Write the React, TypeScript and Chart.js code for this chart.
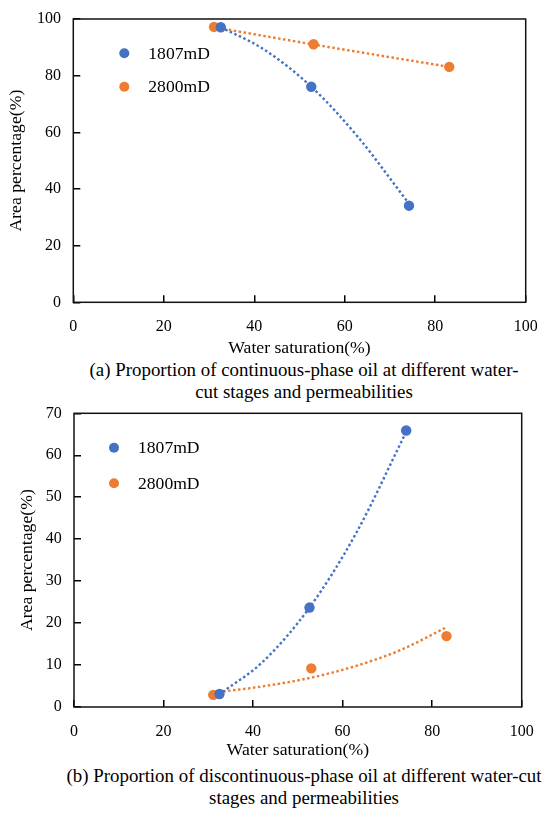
import { useEffect, useRef } from 'react';
import { Chart, registerables } from 'chart.js';

Chart.register(...registerables);

const BLUE = '#4472C4';
const ORANGE = '#ED7D31';
const SERIF = '"Liberation Serif", "Times New Roman", serif';

const seriesNames = ['1807mD', '2800mD'];
const xTitle = 'Water saturation(%)';
const yTitle = 'Area percentage(%)';

// (a) continuous-phase oil
const satA1807 = [32.6, 52.6, 74.2];
const areaA1807 = [97.1, 76.1, 34.1];
const satA2800 = [31.1, 53.1, 83.1];
const areaA2800 = [97.2, 91.1, 83.1];
// dotted trend lines
const trendSatA1807 = [32.6, 42, 52.6, 63, 74.2];
const trendAreaA1807 = [97.1, 89.4, 76.1, 58.2, 34.8];
const trendSatA2800 = [31.1, 53.1, 83.1];
const trendAreaA2800 = [97.1, 91.0, 83.1];

// (b) discontinuous-phase oil
const satB1807 = [32.5, 52.6, 74.2];
const areaB1807 = [3.1, 23.7, 65.9];
const satB2800 = [31.1, 53.0, 83.2];
const areaB2800 = [2.9, 9.2, 16.9];
const trendSatB1807 = [33.2, 42, 52.6, 63, 74.2];
const trendAreaB1807 = [3.6, 10.6, 23.7, 41.4, 65.6];
const trendSatB2800 = [31.1, 42, 53, 63, 73, 83.2];
const trendAreaB2800 = [3.4, 4.9, 7.0, 9.8, 13.6, 19.0];

const captionA = ['(a) Proportion of continuous-phase oil at different water-', 'cut stages and permeabilities'];
const captionB = ['(b) Proportion of discontinuous-phase oil at different water-cut', 'stages and permeabilities'];

const pts = (xs: number[], ys: number[]) => xs.map((x, i) => ({ x, y: ys[i] }));

const scatterSet = (label: string, color: string, xs: number[], ys: number[]) => ({
  label,
  data: pts(xs, ys),
  backgroundColor: color,
  borderColor: color,
  pointRadius: 5.2,
  pointBorderWidth: 0,
  order: 0,
});

const trendSet = (color: string, xs: number[], ys: number[]) => ({
  label: '',
  data: pts(xs, ys),
  showLine: true,
  borderColor: color,
  backgroundColor: color,
  borderWidth: 2.4,
  borderDash: [2.5, 2.5],
  pointRadius: 0,
  cubicInterpolationMode: 'monotone',
  fill: false,
  order: 1,
});

// box round the plot area
const frame = {
  id: 'frame',
  afterDatasetsDraw(chart: any) {
    const { ctx, chartArea: a } = chart;
    ctx.save();
    ctx.strokeStyle = '#111';
    ctx.lineWidth = 1.5;
    ctx.strokeRect(a.left, a.top, a.right - a.left, a.bottom - a.top);
    ctx.restore();
  },
};

// legend drawn inside the plot, top left
const insideLegend = {
  id: 'insideLegend',
  afterDatasetsDraw(chart: any, _args: any, opts: any) {
    const { ctx, chartArea } = chart;
    const items = chart.data.datasets.filter((d: any) => d.label);
    ctx.save();
    ctx.font = `17.6px ${SERIF}`;
    ctx.textBaseline = 'middle';
    items.forEach((d: any, i: number) => {
      const cx = chartArea.left + opts.dx;
      const cy = chartArea.top + opts.dy + i * opts.gap;
      ctx.beginPath();
      ctx.arc(cx, cy, 5, 0, Math.PI * 2);
      ctx.fillStyle = d.backgroundColor;
      ctx.fill();
      ctx.fillStyle = '#000';
      ctx.fillText(d.label, cx + 24, cy + 1);
    });
    ctx.restore();
  },
};

type PanelProps = {
  top: number;
  height: number;
  datasets: any[];
  yMax: number;
  yStep: number;
  padTop: number;
  padRight: number;
  yAxisW: number;
  xAxisH: number;
  yTitlePad: number;
  legend: { dx: number; dy: number; gap: number };
};

const Panel = (p: PanelProps) => {
  const ref = useRef<HTMLCanvasElement>(null);

  useEffect(() => {
    const ctx = ref.current!.getContext('2d')!;
    const chart = new Chart(ctx, {
      type: 'scatter',
      data: { datasets: p.datasets },
      plugins: [frame, insideLegend],
      options: {
        animation: false,
        responsive: true,
        maintainAspectRatio: false,
        layout: { padding: { left: 0, right: p.padRight, top: p.padTop, bottom: 0 } },
        plugins: {
          legend: { display: false },
          tooltip: { enabled: false },
          insideLegend: p.legend,
        } as any,
        scales: {
          x: {
            type: 'linear',
            min: 0,
            max: 100,
            ticks: { stepSize: 20, padding: 22, color: '#000', font: { size: 16, family: SERIF } },
            grid: { drawOnChartArea: false, tickLength: -7, color: '#000', lineWidth: 1.5 },
            border: { display: false },
            title: {
              display: true,
              text: xTitle,
              color: '#000',
              font: { size: 17.7, family: SERIF },
              padding: { top: 0, bottom: 0 },
            },
            afterFit: (s: any) => {
              s.height = p.xAxisH;
              s.paddingLeft = 0;
              s.paddingRight = 0;
            },
          },
          y: {
            type: 'linear',
            min: 0,
            max: p.yMax,
            ticks: { stepSize: p.yStep, padding: 19.3, color: '#000', font: { size: 16, family: SERIF } },
            grid: { drawOnChartArea: false, tickLength: -7, color: '#000', lineWidth: 1.5 },
            border: { display: false },
            title: {
              display: true,
              text: yTitle,
              color: '#000',
              font: { size: 17.7, family: SERIF },
              padding: { top: p.yTitlePad, bottom: 0 },
            },
            afterFit: (s: any) => {
              s.width = p.yAxisW;
              s.paddingTop = 0;
              s.paddingBottom = 0;
            },
          },
        },
      } as any,
    });
    return () => {
      chart.destroy();
    };
  }, []);

  return (
    <div style={{ position: 'absolute', left: 0, top: p.top, width: 550, height: p.height }}>
      <canvas ref={ref} />
    </div>
  );
};

const Caption = ({ top, lines }: { top: number; lines: string[] }) => (
  <div
    style={{
      position: 'absolute',
      left: 58,
      top,
      width: 492,
      textAlign: 'center',
      fontFamily: SERIF,
      fontSize: 18.9,
      lineHeight: '22px',
      whiteSpace: 'nowrap',
      color: '#000',
    }}
  >
    {lines.map((l) => (
      <div key={l}>{l}</div>
    ))}
  </div>
);

const panelA: PanelProps = {
  top: 0,
  height: 359,
  datasets: [
    scatterSet(seriesNames[0], BLUE, satA1807, areaA1807),
    scatterSet(seriesNames[1], ORANGE, satA2800, areaA2800),
    trendSet(BLUE, trendSatA1807, trendAreaA1807),
    trendSet(ORANGE, trendSatA2800, trendAreaA2800),
  ],
  yMax: 100,
  yStep: 20,
  padTop: 19,
  padRight: 24.3,
  yAxisW: 73.3,
  xAxisH: 56.7,
  yTitlePad: 6,
  legend: { dx: 51, dy: 34.3, gap: 33.4 },
};

const panelB: PanelProps = {
  top: 395,
  height: 366,
  datasets: [
    scatterSet(seriesNames[0], BLUE, satB1807, areaB1807),
    scatterSet(seriesNames[1], ORANGE, satB2800, areaB2800),
    trendSet(BLUE, trendSatB1807, trendAreaB1807),
    trendSet(ORANGE, trendSatB2800, trendAreaB2800),
  ],
  yMax: 70,
  yStep: 10,
  padTop: 18.3,
  padRight: 28.3,
  yAxisW: 74,
  xAxisH: 54,
  yTitlePad: 16.9,
  legend: { dx: 40, dy: 34.4, gap: 35.6 },
};

export default function App() {
  return (
    <div style={{ position: 'absolute', left: 0, top: 0, width: 550, height: 816, overflow: 'hidden', background: '#fff' }}>
      <Panel {...panelA} />
      <Caption top={359} lines={captionA} />
      <Panel {...panelB} />
      <Caption top={764.7} lines={captionB} />
    </div>
  );
}
